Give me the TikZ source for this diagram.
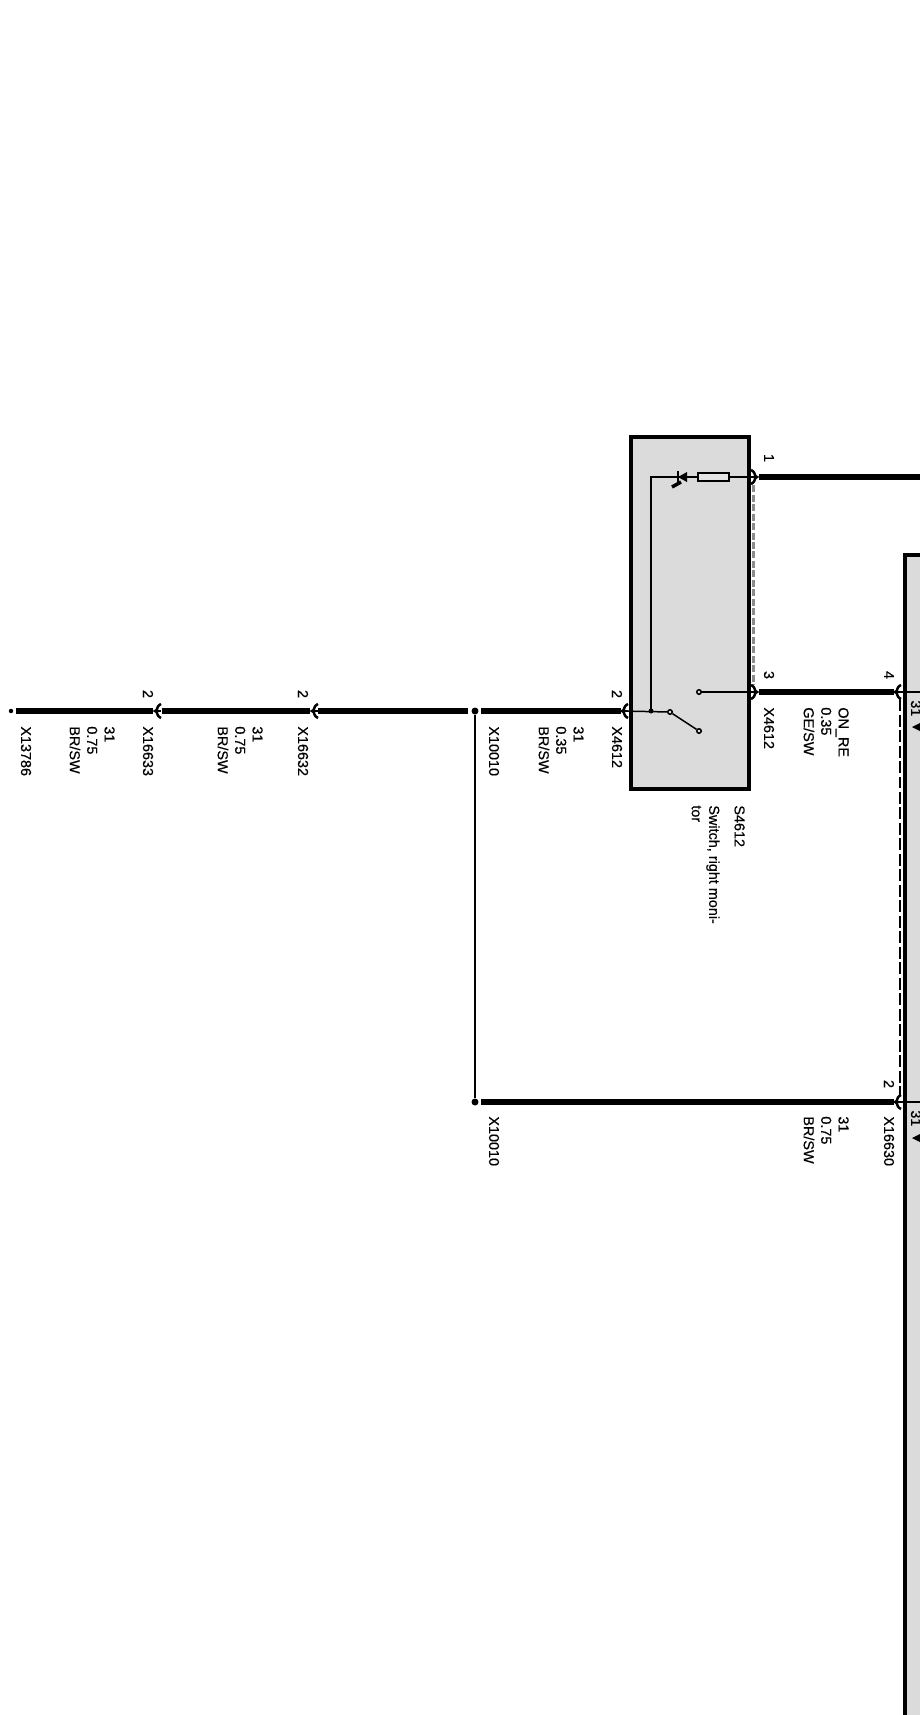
\documentclass[tikz,border=0pt]{standalone}
\usepackage{fontspec}
\setmainfont[FakeBold=0.5]{Liberation Sans}
\tikzset{
  wirethick/.style={line width=0.11cm},
  wirethin/.style={line width=0.03cm},
  housing/.style={draw, fill=black!14, line width=0.07cm, inner sep=0pt},
  lab/.style={rotate=-90, anchor=west, inner sep=0pt, font=\fontsize{8.2pt}{9.9pt}\selectfont},
  stack/.style={lab, anchor=north west, align=left},
  pin/.style={lab, anchor=center},
  contact/.style={circle, draw, fill=black!14, line width=0.03cm, inner sep=0pt, minimum size=0.09cm},
  joint/.style={circle, fill=black, inner sep=0pt, minimum size=0.14cm},
  plugleft/.pic={\draw (6,-7) .. controls (0,-4) and (4,-1) .. (0,0) .. controls (4,1) and (0,4) .. (6,7) [line width=0.05cm];
                 \draw (0,0)--(6,0) [wirethin];},
  plugright/.pic={\draw (-6,-7) .. controls (0,-4) and (-4,-1) .. (0,0) .. controls (-4,1) and (0,4) .. (-6,7) [line width=0.05cm];}
}
\begin{document}
\begin{tikzpicture}[x=0.02cm, y=-0.02cm]
\useasboundingbox (0,0) rectangle (920,1715);

\node (unit) at (955,1205) [housing, minimum width=2cm, minimum height=26cm] {};
\node (S4612) at (690,613) [housing, minimum width=2.36cm, minimum height=7.04cm] {};

\coordinate (p1) at (757,477);
\coordinate (p3) at (757,692);
\coordinate (p2) at (622,711);
\coordinate (p4) at (895,692);
\coordinate (p5) at (895,1102);
\coordinate (p6) at (155,711);
\coordinate (p7) at (312,711);
\coordinate (edge1) at (920,477);
\coordinate (edge4) at (920,692);
\coordinate (edge5) at (920,1102);
\coordinate (tap) at (651,711);

\node (end) at (11,711) [circle, fill=black, inner sep=0pt, minimum size=0.09cm] {};
\node (j1) at (475,711) [joint] {};
\node (j2) at (475,1102) [joint] {};
\node (cc) at (670,712) [contact] {};
\node (c1) at (699,692) [contact] {};
\node (c2) at (699,731) [contact] {};
\node (fuse) at (713.5,477) [draw, fill=black!10, line width=0.04cm, inner sep=0pt, minimum width=0.62cm, minimum height=0.16cm] {};

\draw (16,711)--(153,711) [wirethick];
\draw (162,711)--(310,711) [wirethick];
\draw (318,711)--(j1) [wirethick, shorten >=0.06cm];
\draw (481,711)--(p2) [wirethick, shorten >=0.03cm];
\draw (481,1102)--(p5) [wirethick, shorten >=0.03cm];
\draw (p1)--(edge1) [wirethick, shorten <=0.03cm];
\draw (p3)--(p4) [wirethick, shorten <=0.03cm, shorten >=0.03cm];

\draw (j1)--(j2) [wirethin];
\draw (p2)--(cc) [wirethin];
\draw (cc)--(c2) [wirethin];
\draw (c1)--(p3) [wirethin];
\draw (tap)--(651,477)--(fuse) [wirethin];
\draw (fuse)--(p1) [wirethin];
\draw (p4)--(unit.west |- p4)--(edge4) [wirethin];
\draw (p5)--(edge5) [wirethin];
\fill (tap) circle (0.05cm);

\fill (678,477)--(687,472)--(687,482)--cycle;
\draw (678,471)--(678,483) [line width=0.05cm];
\draw (681,482)--(672,487) [line width=0.07cm];

\draw (753,485)--(753,685) [black!45, dash pattern=on 0.14cm off 0.05cm, line width=0.06cm];
\draw (900,699)--(900,1095) [dash pattern=on 0.24cm off 0.07cm, line width=0.04cm];

\pic at (p6) {plugleft};
\pic at (p7) {plugleft};
\pic at (p2) {plugleft};
\pic at (p4) {plugleft};
\pic at (p5) {plugleft};
\pic at (p1) {plugright};
\pic at (p3) {plugright};

\fill (912,727)--(920,723)--(920,731)--cycle;
\fill (912,1138)--(920,1134)--(920,1142)--cycle;

\node (n1) at (26,726) [lab] {X13786};
\node (n2) at (115,726) [stack] {31\\0.75\\BR/SW};
\node (n3) at (148,694) [pin] {2};
\node (n4) at (148,726) [lab] {X16633};
\node (n5) at (263,726) [stack] {31\\0.75\\BR/SW};
\node (n6) at (303,694) [pin] {2};
\node (n7) at (303,726) [lab] {X16632};
\node (n8) at (494,726) [lab] {X10010};
\node (n9) at (584,726) [stack] {31\\0.35\\BR/SW};
\node (n10) at (617,694) [pin] {2};
\node (n11) at (617,726) [lab] {X4612};
\node (n12) at (745,805) [stack] {S4612};
\node (n13) at (720,805) [stack] {Switch, right moni-\\tor};
\node (n14) at (769,458) [pin] {1};
\node (n15) at (769,675) [pin] {3};
\node (n16) at (769,707) [lab] {X4612};
\node (n17) at (849,707) [stack] {ON\_RE\\0.35\\GE/SW};
\node (n18) at (889,675) [pin] {4};
\node (n19) at (916,700) [lab] {31};
\node (n20) at (494,1116) [lab] {X10010};
\node (n21) at (849,1116) [stack] {31\\0.75\\BR/SW};
\node (n22) at (889,1084) [pin] {2};
\node (n23) at (889,1116) [lab] {X16630};
\node (n24) at (916,1110) [lab] {31};
\end{tikzpicture}
\end{document}
